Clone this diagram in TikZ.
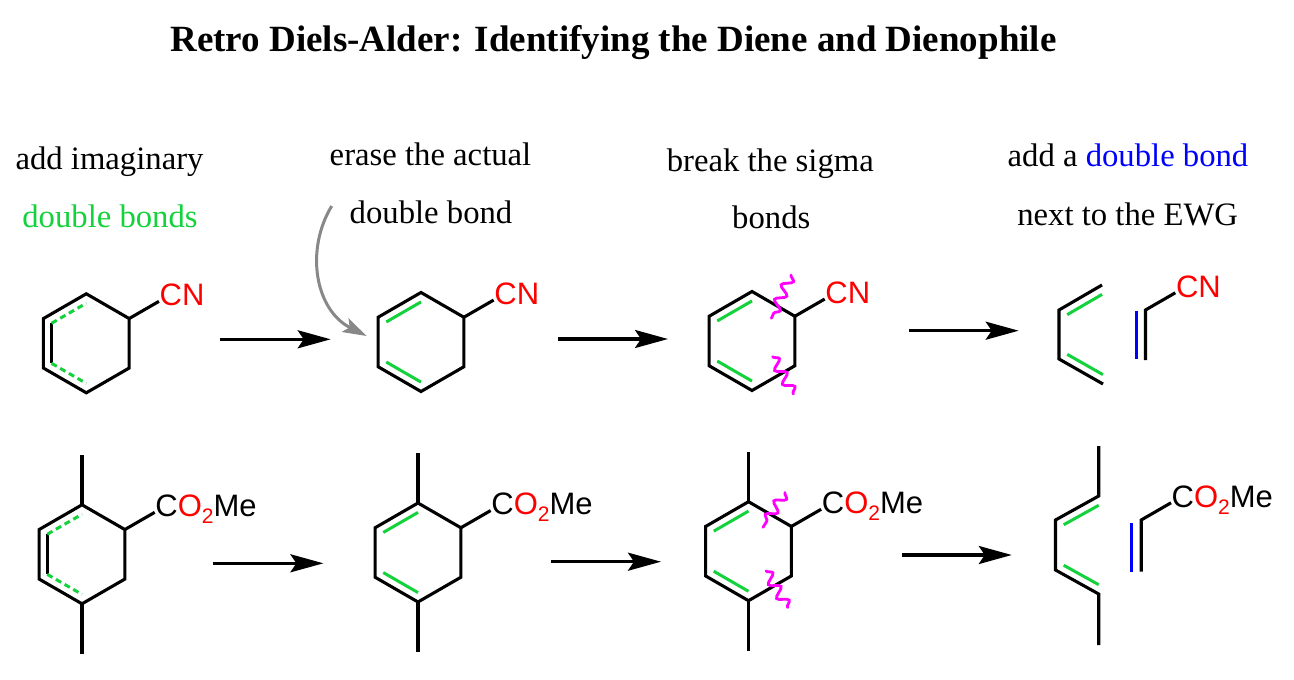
\documentclass[tikz,border=0pt]{standalone}
\usepackage{fontspec}
\setmainfont{Liberation Serif}
\newfontfamily\chemfont{Liberation Sans}
\usetikzlibrary{arrows.meta,calc,decorations.pathmorphing}
\definecolor{bondgreen}{RGB}{20,210,60}
\definecolor{ewgred}{RGB}{255,0,0}
\definecolor{dbblue}{RGB}{0,0,255}
\definecolor{cutmag}{RGB}{255,0,255}
\definecolor{curvegray}{RGB}{136,136,136}
\newcommand\hexring[3]{%
  \coordinate (#1c) at (#2,#3);
  \coordinate (#1t) at (#2,#3-49.5);
  \coordinate (#1ur) at (#2+42.87,#3-24.75);
  \coordinate (#1lr) at (#2+42.87,#3+24.75);
  \coordinate (#1b) at (#2,#3+49.5);
  \coordinate (#1ll) at (#2-42.87,#3+24.75);
  \coordinate (#1ul) at (#2-42.87,#3-24.75);
  \draw[bond] (#1t) -- (#1ur) -- (#1lr) -- (#1b) -- (#1ll) -- (#1ul) -- cycle;
}
\newcommand\innerline[4]{\draw[#1] ($(#2)!0.19!(#4)$) -- ($(#3)!0.19!(#4)$);}
\begin{document}
\begin{tikzpicture}[x=1pt,y=-1pt,
  bond/.style={line width=3.1pt, line join=miter},
  gline/.style={line width=3pt, draw=bondgreen},
  gdash/.style={line width=3pt, draw=bondgreen, dash pattern=on 6pt off 4pt},
  bline/.style={line width=3pt, draw=dbblue},
  rxn/.style={line width=3.1pt, -{Stealth[length=33pt,width=18pt,inset=6pt]}},
  curvearrow/.style={line width=3pt, draw=curvegray, -{Stealth[length=24pt,width=15pt,inset=5pt]}},
  cut/.style={line width=2.8pt, draw=cutmag, line cap=round, decorate, decoration={snake, amplitude=5pt, segment length=16pt}},
  chem/.style={font=\chemfont\fontsize{31}{31}\selectfont, inner sep=0pt, anchor=base west},
  steplabel/.style={font=\fontsize{32.7}{36}\selectfont, inner sep=0pt, anchor=base},
  titlelabel/.style={font=\bfseries\fontsize{37}{44}\selectfont, inner sep=0pt, anchor=base}
]
\fill[white] (0,0) rectangle (1294,680);
\useasboundingbox (0,0) rectangle (1294,680);

% title and step labels
\node[titlelabel] (title) at (613.5,51.7) {Retro Diels-Alder: Identifying the Diene and Dienophile};
\node[steplabel] (l1a) at (109.5,169) {add imaginary};
\node[steplabel, text=bondgreen] (l1b) at (110,227.7) {double bonds};
\node[steplabel] (l2a) at (430.5,165) {erase the actual};
\node[steplabel] (l2b) at (431,223.3) {double bond};
\node[steplabel] (l3a) at (770.3,171.7) {break the sigma};
\node[steplabel] (l3b) at (771.3,228.3) {bonds};
\node[steplabel] (l4a) at (1128,166.7) {add a \textcolor{dbblue}{double bond}};
\node[steplabel] (l4b) at (1127.7,225) {next to the EWG};

% ---------- top row ----------
% molecule 1
\hexring{a}{86.3}{343.3}
\innerline{bond}{aul}{all}{ac}
\innerline{gdash}{aul}{at}{ac}
\innerline{gdash}{all}{ab}{ac}
\coordinate (as) at ($(aur)+(29.8,-17.2)$);
\draw[bond] (aur) -- (as);
\node[chem] (alab) at ($(as)+(0.5,4.3)$) {\textcolor{ewgred}{CN}};

% molecule 2
\hexring{b}{421}{342}
\innerline{gline}{bul}{bt}{bc}
\innerline{gline}{bll}{bb}{bc}
\coordinate (bs) at ($(bur)+(29.8,-17.2)$);
\draw[bond] (bur) -- (bs);
\node[chem] (blab) at ($(bs)+(0.5,4.3)$) {\textcolor{ewgred}{CN}};

% molecule 3
\hexring{c}{752}{341}
\innerline{gline}{cul}{ct}{cc}
\innerline{gline}{cll}{cb}{cc}
\coordinate (cs) at ($(cur)+(29.8,-17.2)$);
\draw[bond] (cur) -- (cs);
\node[chem] (clab) at ($(cs)+(0.5,4.3)$) {\textcolor{ewgred}{CN}};
\coordinate (cq1a) at (791,275);
\coordinate (cq1b) at (771.4,318.3);
\coordinate (cq2a) at (772.6,356.7);
\coordinate (cq2b) at (793.5,394);
\draw[cut] (cq1a) -- (cq1b);
\draw[cut] (cq2a) -- (cq2b);

% products 1
\coordinate (g1) at (1102,285);
\coordinate (g2) at (1059,310);
\coordinate (g3) at (1059,359);
\coordinate (g4) at (1103,384);
\coordinate (gc) at (1102.3,334.5);
\draw[bond] (g1) -- (g2) -- (g3) -- (g4);
\innerline{gline}{g2}{g1}{gc}
\innerline{gline}{g3}{g4}{gc}
\coordinate (k1) at (1145.5,360);
\coordinate (k2) at (1145.5,310);
\coordinate (ks) at ($(k2)+(29.8,-17.2)$);
\draw[bond] (k1) -- (k2) -- (ks);
\coordinate (kb1) at (1136,359);
\coordinate (kb2) at (1136,310.7);
\draw[bline] (kb1) -- (kb2);
\node[chem] (klab) at ($(ks)+(0.5,4.3)$) {\textcolor{ewgred}{CN}};

% ---------- bottom row ----------
% molecule 4
\hexring{d}{82}{554.3}
\innerline{bond}{dul}{dll}{dc}
\innerline{gdash}{dul}{dt}{dc}
\innerline{gdash}{dll}{db}{dc}
\coordinate (dm1) at ($(dt)+(0,-50)$);
\coordinate (dm2) at ($(db)+(0,50)$);
\draw[bond] (dt) -- (dm1);
\draw[bond] (db) -- (dm2);
\coordinate (ds) at ($(dur)+(29.8,-17.2)$);
\draw[bond] (dur) -- (ds);
\node[chem] (dlab) at ($(ds)+(0.5,4.3)$) {C\textcolor{ewgred}{O\raisebox{-7pt}{\fontsize{21}{21}\selectfont 2}}Me};

% molecule 5
\hexring{e}{418}{552.5}
\innerline{gline}{eul}{et}{ec}
\innerline{gline}{ell}{eb}{ec}
\coordinate (em1) at ($(et)+(0,-50)$);
\coordinate (em2) at ($(eb)+(0,50)$);
\draw[bond] (et) -- (em1);
\draw[bond] (eb) -- (em2);
\coordinate (es) at ($(eur)+(29.8,-17.2)$);
\draw[bond] (eur) -- (es);
\node[chem] (elab) at ($(es)+(0.5,4.3)$) {C\textcolor{ewgred}{O\raisebox{-7pt}{\fontsize{21}{21}\selectfont 2}}Me};

% molecule 6
\hexring{f}{748.5}{551.2}
\innerline{gline}{ful}{ft}{fc}
\innerline{gline}{fll}{fb}{fc}
\coordinate (fm1) at ($(ft)+(0,-50)$);
\coordinate (fm2) at ($(fb)+(0,50)$);
\draw[bond] (ft) -- (fm1);
\draw[bond] (fb) -- (fm2);
\coordinate (fs) at ($(fur)+(29.8,-17.2)$);
\draw[bond] (fur) -- (fs);
\node[chem] (flab) at ($(fs)+(0.5,4.3)$) {C\textcolor{ewgred}{O\raisebox{-7pt}{\fontsize{21}{21}\selectfont 2}}Me};
\coordinate (fq1a) at (785,492.5);
\coordinate (fq1b) at (763,527.3);
\coordinate (fq2a) at (766,571);
\coordinate (fq2b) at (787.8,607.5);
\draw[cut] (fq1a) -- (fq1b);
\draw[cut] (fq2a) -- (fq2b);

% products 2
\coordinate (h0) at (1098.7,446);
\coordinate (h1) at (1098.7,496);
\coordinate (h2) at (1055.5,520);
\coordinate (h3) at (1055.5,570);
\coordinate (h4) at (1098.7,594);
\coordinate (h5) at (1098.7,645);
\coordinate (hc) at (1098.7,545);
\draw[bond] (h0) -- (h1) -- (h2) -- (h3) -- (h4) -- (h5);
\innerline{gline}{h2}{h1}{hc}
\innerline{gline}{h3}{h4}{hc}
\coordinate (m1) at (1141.2,571.7);
\coordinate (m2) at (1141.2,520);
\coordinate (ms) at ($(m2)+(29.8,-17.2)$);
\draw[bond] (m1) -- (m2) -- (ms);
\coordinate (mb1) at (1131.5,571.7);
\coordinate (mb2) at (1131.5,522.7);
\draw[bline] (mb1) -- (mb2);
\node[chem] (mlab) at ($(ms)+(0.5,4.3)$) {C\textcolor{ewgred}{O\raisebox{-7pt}{\fontsize{21}{21}\selectfont 2}}Me};

% ---------- reaction arrows ----------
\coordinate (r1s) at (220,339.3);   \coordinate (r1e) at (330.7,339.3);
\coordinate (r2s) at (558,339);     \coordinate (r2e) at (668,339);
\coordinate (r3s) at (909,330.7);   \coordinate (r3e) at (1018.7,330.7);
\coordinate (r4s) at (212.7,563.3); \coordinate (r4e) at (323.4,563.3);
\coordinate (r5s) at (550.8,561.7); \coordinate (r5e) at (661,561.7);
\coordinate (r6s) at (901.8,555);   \coordinate (r6e) at (1011.8,555);
\draw[rxn] (r1s) -- (r1e);
\draw[rxn] (r2s) -- (r2e);
\draw[rxn] (r3s) -- (r3e);
\draw[rxn] (r4s) -- (r4e);
\draw[rxn] (r5s) -- (r5e);
\draw[rxn] (r6s) -- (r6e);

% gray curved arrow
\coordinate (gs) at (331.7,206);
\coordinate (ge) at (366.7,336);
\draw[curvearrow] (gs) .. controls (305,250) and (315,310) .. (ge);
\end{tikzpicture}
\end{document}
